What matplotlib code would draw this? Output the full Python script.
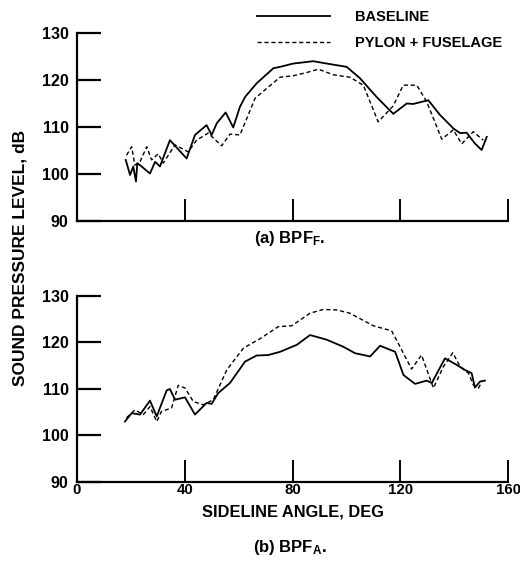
import matplotlib
matplotlib.use("Agg")
from matplotlib import pyplot as plt

plt.rcParams['font.family'] = ['Liberation Sans', 'DejaVu Sans']
plt.rcParams['font.weight'] = 'bold'
plt.rcParams['axes.labelweight'] = 'bold'
plt.rcParams['mathtext.default'] = 'regular'
plt.rcParams['mathtext.fontset'] = 'custom'
plt.rcParams['mathtext.rm'] = 'Liberation Sans:bold'

# (a) BPF_F
a_base_x = [18.1, 19.7, 20.9, 21.9, 22.4, 24.0, 27.1, 29.0, 30.8, 34.5, 40.7, 43.8, 48.1, 50.0,
            51.9, 55.2, 58.0, 60.5, 62.4, 66.7, 72.9, 75.4, 80.3, 87.7, 92.7, 100.1, 105.0,
            111.2, 117.4, 122.4, 124.8, 130.4, 134.7, 139.7, 142.2, 144.6, 147.7, 150.2, 152.1]
a_base_y = [103.0, 99.8, 101.6, 98.4, 102.3, 101.6, 100.1, 102.6, 101.6, 107.2, 103.3, 108.3,
            110.4, 108.3, 110.8, 113.1, 109.9, 114.3, 116.4, 119.3, 122.5, 122.8, 123.5, 124.0,
            123.5, 122.8, 120.4, 116.4, 112.8, 115.0, 114.9, 115.7, 112.6, 109.7, 108.7, 108.8,
            106.5, 105.1, 107.9]
a_pyl_x = [18.4, 20.3, 21.5, 23.4, 25.9, 27.7, 30.2, 32.0, 36.4, 41.3, 44.4, 48.7, 53.7, 56.8,
           60.5, 66.1, 70.4, 75.4, 80.3, 85.3, 89.6, 95.2, 101.3, 106.3, 111.8, 117.4, 121.1,
           126.1, 129.8, 135.4, 139.7, 142.8, 147.1, 150.8]
a_pyl_y = [104.0, 105.8, 101.9, 102.6, 105.8, 103.0, 104.3, 102.3, 106.2, 104.7, 107.2, 108.7,
           106.0, 108.5, 108.3, 116.1, 118.2, 120.6, 120.9, 121.6, 122.3, 121.1, 120.6, 118.9,
           111.1, 114.5, 118.9, 118.9, 115.4, 107.4, 109.4, 106.4, 109.0, 107.2]

# (b) BPF_A
b_base_x = [17.8, 20.3, 23.4, 27.1, 29.6, 33.3, 34.5, 36.4, 40.1, 43.8, 48.1, 50.0, 52.4, 56.8,
            62.4, 66.7, 71.0, 75.4, 81.6, 86.5, 92.7, 98.8, 103.2, 108.8, 112.5, 118.1, 121.2,
            125.5, 129.8, 131.7, 136.6, 140.3, 144.0, 146.5, 147.7, 149.6, 151.4]
b_base_y = [103.0, 104.8, 104.5, 107.5, 104.1, 109.7, 110.0, 107.7, 108.2, 104.5, 107.0, 106.8,
            109.1, 111.3, 115.9, 117.2, 117.3, 118.0, 119.5, 121.6, 120.6, 119.1, 117.7, 117.0,
            119.3, 118.0, 113.0, 111.1, 111.8, 111.3, 116.6, 115.4, 114.1, 113.4, 110.3, 111.6,
            111.8]
b_pyl_x = [18.4, 21.5, 24.6, 27.1, 29.6, 31.4, 35.1, 37.6, 40.1, 43.2, 46.9, 50.6, 55.6, 61.8,
           67.9, 74.7, 79.7, 86.5, 91.4, 96.4, 101.3, 110.0, 116.8, 119.9, 124.2, 127.9, 132.3,
           136.0, 139.5, 142.2, 145.3, 147.1, 149.0, 150.2]
b_pyl_y = [103.8, 105.5, 104.5, 106.2, 103.0, 105.2, 105.9, 110.8, 110.2, 107.3, 106.6, 107.7,
           114.1, 118.8, 120.8, 123.4, 123.6, 126.3, 127.1, 127.0, 126.3, 123.6, 122.5, 119.1,
           114.3, 117.3, 110.2, 114.8, 117.8, 114.8, 113.4, 110.9, 110.2, 111.4]

x_ticks = [0, 40, 80, 120, 160]
y_ticks = [90, 100, 110, 120, 130]
fs = 11.5

fig = plt.figure(figsize=(5.2, 5.69), dpi=100)
ax1 = fig.add_axes([0.148, 0.6116, 0.829, 0.3304])
ax2 = fig.add_axes([0.148, 0.1529, 0.829, 0.3269])


def style(ax, labels):
    ax.set_xlim(0, 160)
    ax.set_ylim(90, 130)
    ax.set_xticks(x_ticks)
    ax.set_yticks(y_ticks)
    for s in ['top', 'right']:
        ax.spines[s].set_visible(False)
    for s in ['left', 'bottom']:
        ax.spines[s].set_linewidth(1.6)
    ax.tick_params(axis='y', direction='in', length=17, width=1.6, labelsize=fs, pad=6)
    ax.tick_params(axis='x', direction='in', length=16, width=1.4, labelsize=10.8, pad=1,
                   labelbottom=labels)


for ax, bx, by, px, py in [(ax1, a_base_x, a_base_y, a_pyl_x, a_pyl_y),
                           (ax2, b_base_x, b_base_y, b_pyl_x, b_pyl_y)]:
    ax.plot(bx, by, color='black', lw=1.3, label='BASELINE')
    ax.plot(px, py, color='black', lw=1.0, dashes=(3, 2), label='PYLON + FUSELAGE')

style(ax1, False)
style(ax2, True)

ax1.legend(loc='upper left', bbox_to_anchor=(0.475, 1.0), bbox_transform=fig.transFigure,
           frameon=False, handlelength=5.0, fontsize=10.5, borderaxespad=0.3,
           labelspacing=0.82, handletextpad=1.7)

ax2.set_xlabel('SIDELINE ANGLE, DEG', fontsize=11.8, labelpad=5)
fig.text(0.557, 0.581, '(a) BPF$_\\mathregular{F}$.', ha='center', va='center', fontsize=12)
fig.text(0.557, 0.037, '(b) BPF$_\\mathregular{A}$.', ha='center', va='center', fontsize=12)
fig.text(0.038, 0.547, 'SOUND PRESSURE LEVEL, dB', rotation=90, ha='center', va='center',
         fontsize=12.5)

fig.savefig('out.png', dpi=100)
